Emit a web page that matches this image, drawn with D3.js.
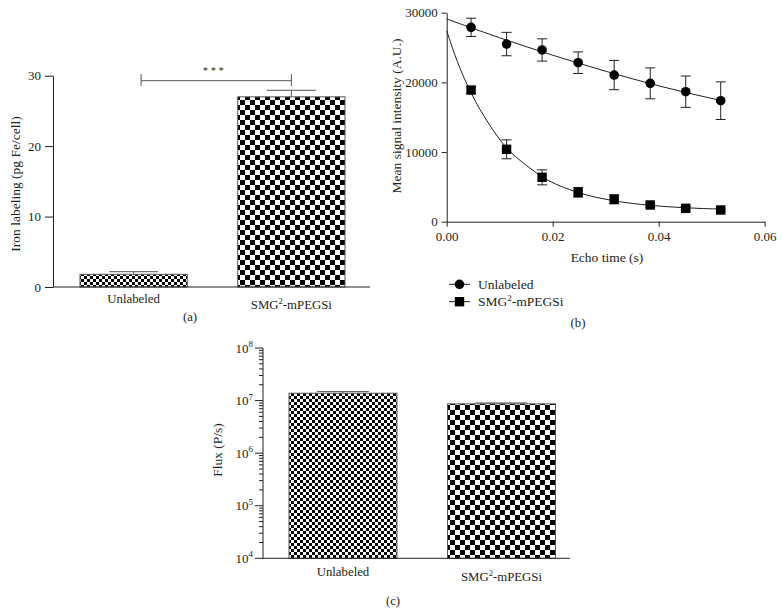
<!DOCTYPE html>
<html><head><meta charset="utf-8">
<script src="https://cdn.jsdelivr.net/npm/d3@7"></script>
<style>
body{margin:0;background:#fff}
svg{display:block}
text{font-family:"Liberation Serif","Times New Roman",serif;fill:#231f20}
</style>
</head><body>
<svg id="chart" width="783" height="612"></svg>
<script>
// ---------- data ----------
const groups = ["Unlabeled", "SMG2-mPEGSi"];
const ironMean = [1.8, 27.0];
const ironErr = [0.37, 0.93];
const ironTicks = [0, 10, 20, 30];

const echoTime = [0.0046, 0.0113, 0.0180, 0.0248, 0.0316, 0.0384, 0.0451, 0.0517];
const unlabeledSignal = [27900, 25500, 24650, 22820, 21050, 19860, 18660, 17370];
const unlabeledErr = [1310, 1680, 1600, 1550, 2100, 2220, 2250, 2700];
const smgSignal = [18900, 10390, 6370, 4220, 3215, 2400, 1920, 1680];
const smgErr = [500, 1360, 1080, 700, 650, 300, 250, 250];
const unlabeledFitX = [0, 0.01, 0.02, 0.03, 0.04, 0.0517];
const unlabeledFitY = [29100, 26400, 23900, 21600, 19500, 17400];
const smgFitX = [0, 0.002, 0.0046, 0.008, 0.0113, 0.015, 0.018, 0.0248, 0.0316, 0.0384, 0.0451, 0.0517];
const smgFitY = [27400, 23000, 18500, 14000, 10600, 8100, 6450, 4200, 3000, 2350, 2000, 1800];
const signalTicks = [0, 10000, 20000, 30000];
const echoTicks = [0, 0.02, 0.04, 0.06];

const fluxMean = [1.38e7, 8.66e6];
const fluxErr = [1.0e6, 3.4e5];
const fluxTicks = [1e4, 1e5, 1e6, 1e7, 1e8];

// ---------- setup ----------
const svg = d3.select("#chart");
const ink = "#231f20";
const TICK_FS = 13, LABEL_FS = 12.8, TITLE_FS = 13.5;
const defs = svg.append("defs");
function checker(id, s) {
  const p = defs.append("pattern").attr("id", id).attr("patternUnits", "userSpaceOnUse")
    .attr("width", 2 * s).attr("height", 2 * s);
  p.append("rect").attr("width", 2 * s).attr("height", 2 * s).attr("fill", "#fff");
  p.append("rect").attr("width", s).attr("height", s).attr("fill", "#000");
  p.append("rect").attr("x", s).attr("y", s).attr("width", s).attr("height", s).attr("fill", "#000");
}
checker("chkSmall", 3);
checker("chkLarge", 5);
const fills = ["url(#chkSmall)", "url(#chkLarge)"];

function catLabel(g, x, y, name) {
  const t = g.append("text").attr("x", x).attr("y", y).attr("text-anchor", "middle").attr("font-size", LABEL_FS);
  const m = name.match(/^SMG2(.*)$/);
  if (m) {
    t.append("tspan").text("SMG");
    t.append("tspan").attr("dy", -5).attr("font-size", 8.5).text("2");
    t.append("tspan").attr("dy", 5).text(m[1]);
  } else t.text(name);
}
function styleAxis(g) {
  g.selectAll("path,line").attr("stroke", ink).attr("stroke-width", 1);
  g.selectAll("text").attr("font-family", '"Liberation Serif","Times New Roman",serif').attr("font-size", TICK_FS).attr("fill", ink);
}

// ---------- panel (a) ----------
{
  const g = svg.append("g");
  const x = d3.scaleBand().domain(groups).range([80, 345]).paddingInner(0.32);
  const y = d3.scaleLinear().domain([0, 30]).range([287, 75.7]);
  const ax = g.append("g").attr("transform", "translate(53,0)")
    .call(d3.axisLeft(y).tickValues(ironTicks).tickSize(8).tickSizeOuter(0).tickPadding(4));
  styleAxis(ax);
  groups.forEach((d, i) => {
    const cx = x(d) + x.bandwidth() / 2;
    g.append("line").attr("x1", cx).attr("x2", cx).attr("y1", y(ironMean[i])).attr("y2", y(ironMean[i] + ironErr[i])).attr("stroke", "#555");
    g.append("line").attr("x1", cx - 24.5).attr("x2", cx + 24.5).attr("y1", y(ironMean[i] + ironErr[i])).attr("y2", y(ironMean[i] + ironErr[i])).attr("stroke", "#555");
    g.append("rect").attr("x", x(d)).attr("y", y(ironMean[i])).attr("width", x.bandwidth())
      .attr("height", y(0) - y(ironMean[i])).attr("fill", fills[i]).attr("stroke", "#555").attr("stroke-width", 1);
    catLabel(g, cx, i === 0 ? 303 : 309, d);
  });
  g.append("line").attr("x1", 53).attr("x2", 370).attr("y1", y(0)).attr("y2", y(0)).attr("stroke", ink);
  // significance bracket
  const bx1 = x(groups[0]) + x.bandwidth() * 0.57, bx2 = x(groups[1]) + x.bandwidth() / 2;
  g.append("path").attr("d", `M${bx1},74V86M${bx1},80.7H${bx2}M${bx2},74V86`).attr("stroke", "#555").attr("fill", "none");
  g.append("text").attr("x", (bx1 + bx2) / 2 - 3).attr("y", 74).attr("text-anchor", "middle").attr("font-size", 10.5).text("* * *");
  g.append("text").attr("transform", "translate(20,184) rotate(-90)").attr("text-anchor", "middle").attr("font-size", TITLE_FS).text("Iron labeling (pg Fe/cell)");
  g.append("text").attr("x", 190).attr("y", 321).attr("text-anchor", "middle").attr("font-size", LABEL_FS).text("(a)");
}

// ---------- panel (b) ----------
{
  const g = svg.append("g");
  const x = d3.scaleLinear().domain([0, 0.06]).range([446.7, 764.7]);
  const y = d3.scaleLinear().domain([0, 30000]).range([221.7, 12.7]);
  const ax = g.append("g").attr("transform", `translate(0,${y(0)})`)
    .call(d3.axisBottom(x).tickValues(echoTicks).tickFormat(d3.format(".2f")).tickSize(5).tickSizeOuter(0).tickPadding(5));
  styleAxis(ax);
  const ay = g.append("g").attr("transform", `translate(${x(0)},0)`)
    .call(d3.axisLeft(y).tickValues(signalTicks).tickFormat(d3.format("d")).tickSize(5).tickSizeOuter(0).tickPadding(4));
  styleAxis(ay);
  const line = d3.line().x(d => x(d[0])).y(d => y(d[1])).curve(d3.curveMonotoneX);
  g.append("path").attr("d", line(unlabeledFitX.map((v, i) => [v, unlabeledFitY[i]]))).attr("fill", "none").attr("stroke", ink).attr("stroke-width", 1);
  g.append("path").attr("d", line(smgFitX.map((v, i) => [v, smgFitY[i]]))).attr("fill", "none").attr("stroke", ink).attr("stroke-width", 1);
  function errs(vals, err) {
    echoTime.forEach((t, i) => {
      const cx = x(t), y1 = y(vals[i] + err[i]), y2 = y(vals[i] - err[i]);
      g.append("path").attr("d", `M${cx},${y1}V${y2}M${cx - 5},${y1}H${cx + 5}M${cx - 5},${y2}H${cx + 5}`).attr("stroke", ink).attr("fill", "none");
    });
  }
  errs(unlabeledSignal, unlabeledErr);
  errs(smgSignal, smgErr);
  g.selectAll("circle.u").data(echoTime).join("circle").attr("class", "u")
    .attr("cx", d => x(d)).attr("cy", (d, i) => y(unlabeledSignal[i])).attr("r", 4.8).attr("fill", "#000");
  g.selectAll("rect.s").data(echoTime).join("rect").attr("class", "s")
    .attr("x", d => x(d) - 4.7).attr("y", (d, i) => y(smgSignal[i]) - 4.7).attr("width", 9.4).attr("height", 9.4).attr("fill", "#000");
  g.append("text").attr("x", 607).attr("y", 262).attr("text-anchor", "middle").attr("font-size", TITLE_FS).text("Echo time (s)");
  g.append("text").attr("transform", "translate(401,116) rotate(-90)").attr("text-anchor", "middle").attr("font-size", TITLE_FS).text("Mean signal intensity (A.U.)");
  // legend
  [[284.3, "c", "Unlabeled"], [301.7, "s", "SMG2-mPEGSi"]].forEach(([ly, m, name]) => {
    g.append("line").attr("x1", 449).attr("x2", 470).attr("y1", ly).attr("y2", ly).attr("stroke", ink);
    if (m === "c") g.append("circle").attr("cx", 459.5).attr("cy", ly).attr("r", 4.8).attr("fill", "#000");
    else g.append("rect").attr("x", 459.5 - 4.7).attr("y", ly - 4.7).attr("width", 9.4).attr("height", 9.4).attr("fill", "#000");
    const t = g.append("text").attr("x", 478).attr("y", ly + 4.3).attr("font-size", TITLE_FS);
    if (name.startsWith("SMG2")) {
      t.append("tspan").text("SMG");
      t.append("tspan").attr("dy", -5).attr("font-size", 9).text("2");
      t.append("tspan").attr("dy", 5).text(name.slice(4));
    } else t.text(name);
  });
  g.append("text").attr("x", 578).attr("y", 327).attr("text-anchor", "middle").attr("font-size", LABEL_FS).text("(b)");
}

// ---------- panel (c) ----------
{
  const g = svg.append("g");
  const x = d3.scaleBand().domain(groups).range([289, 555.5]).paddingInner(0.319);
  const y = d3.scaleLog().domain([1e4, 1e8]).range([558.3, 348]);
  const axX = 263;
  // minor ticks
  const minor = y.ticks().filter(v => !fluxTicks.includes(v));
  g.selectAll("line.minor").data(minor).join("line").attr("class", "minor")
    .attr("x1", axX - 4).attr("x2", axX).attr("y1", d => y(d)).attr("y2", d => y(d)).attr("stroke", ink);
  g.selectAll("line.major").data(fluxTicks).join("line").attr("class", "major")
    .attr("x1", axX - 8).attr("x2", axX).attr("y1", d => y(d)).attr("y2", d => y(d)).attr("stroke", ink);
  g.append("line").attr("x1", axX).attr("x2", axX).attr("y1", y(1e4)).attr("y2", y(1e8)).attr("stroke", ink);
  fluxTicks.forEach(v => {
    const t = g.append("text").attr("x", axX - 10).attr("y", y(v) + 4.5).attr("text-anchor", "end").attr("font-size", TICK_FS);
    t.append("tspan").text("10");
    t.append("tspan").attr("dy", -5.5).attr("font-size", 9).text(String(Math.round(Math.log10(v))));
  });
  groups.forEach((d, i) => {
    const cx = x(d) + x.bandwidth() / 2;
    g.append("line").attr("x1", cx).attr("x2", cx).attr("y1", y(fluxMean[i])).attr("y2", y(fluxMean[i] + fluxErr[i])).attr("stroke", "#555");
    g.append("line").attr("x1", cx - 26).attr("x2", cx + 26).attr("y1", y(fluxMean[i] + fluxErr[i])).attr("y2", y(fluxMean[i] + fluxErr[i])).attr("stroke", "#555");
    g.append("rect").attr("x", x(d)).attr("y", y(fluxMean[i])).attr("width", x.bandwidth())
      .attr("height", y(1e4) - y(fluxMean[i])).attr("fill", fills[i]).attr("stroke", "#555").attr("stroke-width", 1);
    catLabel(g, cx, i === 0 ? 576 : 581, d);
  });
  g.append("line").attr("x1", axX).attr("x2", 570).attr("y1", y(1e4)).attr("y2", y(1e4)).attr("stroke", ink);
  g.append("text").attr("transform", "translate(222,450) rotate(-90)").attr("text-anchor", "middle").attr("font-size", TITLE_FS).text("Flux (P/s)");
  g.append("text").attr("x", 393).attr("y", 605).attr("text-anchor", "middle").attr("font-size", LABEL_FS).text("(c)");
}
</script>
</body></html>
